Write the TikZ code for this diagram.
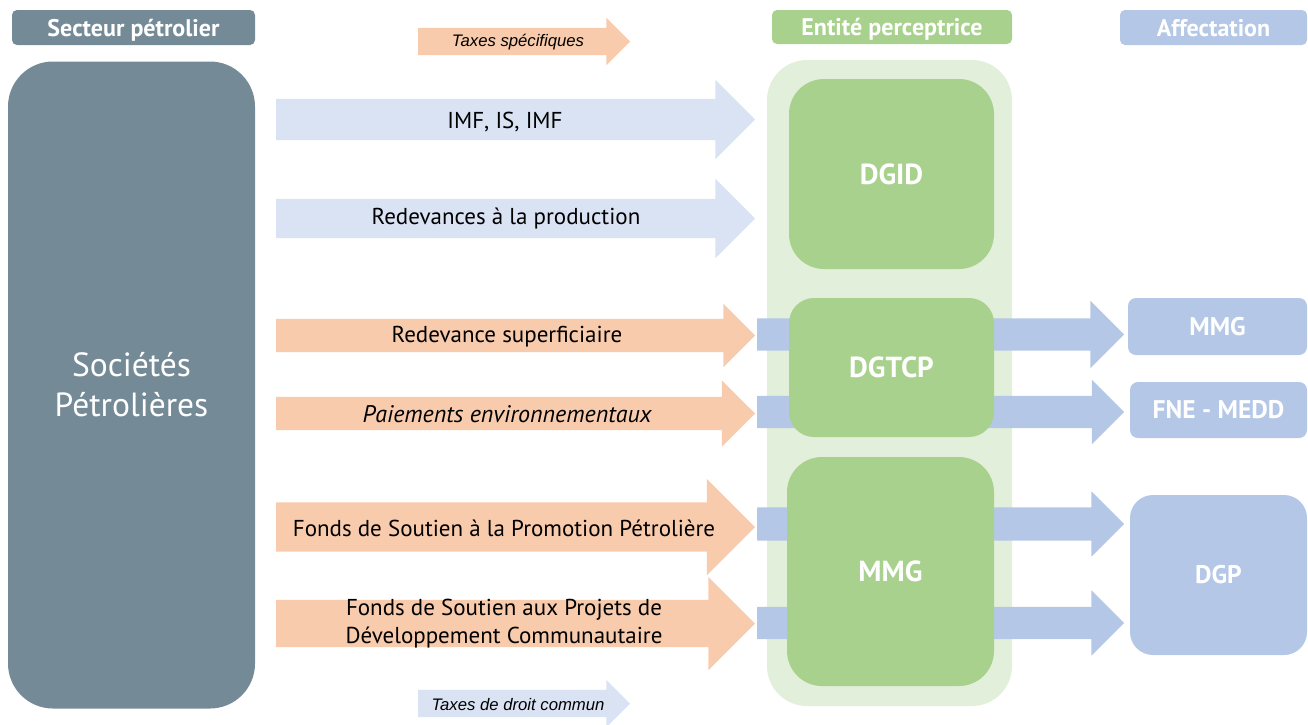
\documentclass[tikz,border=0pt]{standalone}
\usepackage{fontspec}
\setmainfont{PT Sans}
\newfontfamily\legendfont{Liberation Sans}
\usetikzlibrary{shapes.arrows}
\definecolor{slate}{RGB}{116,139,151}
\definecolor{peach}{RGB}{248,203,173}
\definecolor{paleblue}{RGB}{218,227,243}
\definecolor{midblue}{RGB}{180,199,231}
\definecolor{leaf}{RGB}{169,209,142}
\definecolor{paleleaf}{RGB}{226,239,218}
\tikzset{
  box/.style={inner sep=0pt, outer sep=0pt, align=center, text=white,
    font=\bfseries\fontsize{24}{28}\selectfont},
  header/.style={box, rounded corners=5pt, text depth=0pt},
  flow/.style={single arrow, anchor=tail, inner xsep=0pt, outer sep=0pt},
  flowtext/.style={align=center, font=\fontsize{23}{28}\selectfont},
  legendtext/.style={font=\legendfont\itshape\fontsize{16.7}{18}\selectfont}
}
\begin{document}
\begin{tikzpicture}[x=1pt,y=-1pt]
  \useasboundingbox (0,0) rectangle (1308,724);
  % legend
  \foreach \y/\col/\nm in {41.5/peach/spec,703.5/paleblue/commun}
    \node[flow, fill=\col, minimum height=212pt, inner ysep=13.5pt,
      single arrow head extend=10pt] (\nm) at (418,\y) {};
  \node[legendtext] (t-spec) at (518,42) {Taxes spécifiques};
  \node[legendtext] (t-commun) at (518,705) {Taxes de droit commun};
  % headers
  \node[header, fill=slate, minimum width=243pt, minimum height=35pt]
    (h-secteur) at (133.5,27.5) {Secteur pétrolier};
  \node[header, fill=leaf, minimum width=240pt, minimum height=34pt]
    (h-entite) at (892,27) {Entité perceptrice};
  \node[header, fill=midblue, minimum width=187pt, minimum height=35pt]
    (h-affect) at (1213.5,27.5) {Affectation};
  % secteur
  \node[box, fill=slate, rounded corners=45pt, minimum width=247pt, minimum height=647pt,
    font=\fontsize{33.5}{40}\selectfont] (soc) at (131.5,385) {Sociétés\\Pétrolières};
  % entites
  \node[box, fill=paleleaf, rounded corners=40pt, minimum width=245pt, minimum height=646pt]
    (entite) at (889.5,383) {};
  \foreach \y/\h/\ext/\nm in {334.5/16/17.5/b1,412/16/16/b2,524/16.5/16/b3,623/16/16.5/b4}
    \node[flow, fill=midblue, minimum height=367pt, inner ysep=\h pt,
      single arrow head extend=\ext pt] (\nm) at (757,\y) {};
  \node[box, fill=leaf, rounded corners=35pt, minimum width=205pt, minimum height=190pt,
    font=\bfseries\fontsize{29}{33}\selectfont] (dgid) at (891.5,174) {DGID};
  \node[box, fill=leaf, rounded corners=25pt, minimum width=205pt, minimum height=139pt,
    font=\bfseries\fontsize{29}{33}\selectfont] (dgtcp) at (891.5,367.5) {DGTCP};
  \node[box, fill=leaf, rounded corners=35pt, minimum width=207pt, minimum height=229pt,
    font=\bfseries\fontsize{29}{33}\selectfont] (mmg) at (890.5,571.5) {MMG};
  % affectation
  \node[box, fill=midblue, rounded corners=8pt, minimum width=179pt, minimum height=57pt,
    font=\bfseries\fontsize{25.5}{30}\selectfont] (a-mmg) at (1217.5,326.5) {MMG};
  \node[box, fill=midblue, rounded corners=8pt, minimum width=177pt, minimum height=56pt,
    font=\bfseries\fontsize{25.5}{30}\selectfont] (a-fne) at (1218.5,410) {FNE - MEDD};
  \node[box, fill=midblue, rounded corners=23pt, minimum width=177pt, minimum height=160pt,
    font=\bfseries\fontsize{25.5}{30}\selectfont] (a-dgp) at (1218.5,575) {DGP};
  % flux
  \foreach \y/\h/\ext/\col/\nm in {119.5/20.5/19/paleblue/imf,218.5/19.5/20/paleblue/prod,
      335.5/16.5/15/peach/sup,413.5/16.5/16.5/peach/env,
      527/24.5/23.5/peach/fspp,623.5/23.5/23/peach/fspdc}
    \node[flow, fill=\col, minimum height=479pt, inner ysep=\h pt,
      single arrow head extend=\ext pt] (\nm) at (276,\y) {};
  \node[flowtext] (t-imf) at (505,122) {IMF, IS, IMF};
  \node[flowtext] (t-prod) at (506,219) {Redevances à la production};
  \node[flowtext] (t-sup) at (507,337) {Redevance superficiaire};
  \node[flowtext, font=\itshape\fontsize{24}{28}\selectfont] (t-env) at (507,414) {Paiements environnementaux};
  \node[flowtext] (t-fspp) at (504,528) {Fonds de Soutien à la Promotion Pétrolière};
  \node[flowtext] (t-fspdc) at (504,624) {Fonds de Soutien aux Projets de\\Développement Communautaire};
\end{tikzpicture}
\end{document}
